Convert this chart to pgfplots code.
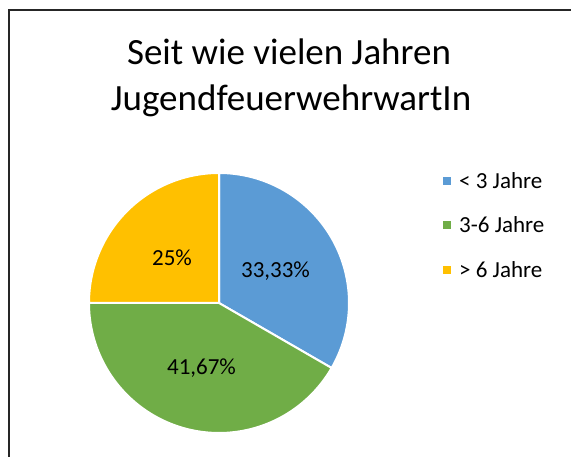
\documentclass[border=0pt]{standalone}
\usepackage{pgfplots}
\usepackage{pgfplotstable}
\pgfplotsset{compat=1.18}
\usepackage{fontspec}
\setmainfont{Carlito}
\definecolor{pieblue}{HTML}{5B9BD5}
\definecolor{piegreen}{HTML}{70AD47}
\definecolor{pieyellow}{HTML}{FFC000}
\pgfplotstableread{
label value
a 33.33
b 41.67
c 25
}\piedata
\pgfplotstablegetelem{0}{value}\of\piedata\let\va\pgfplotsretval
\pgfplotstablegetelem{1}{value}\of\piedata\let\vb\pgfplotsretval
\pgfplotstablegetelem{2}{value}\of\piedata\let\vc\pgfplotsretval
\pgfmathsetmacro\aA{90}
\pgfmathsetmacro\aB{90-3.6*\va}
\pgfmathsetmacro\aC{\aB-3.6*\vb}
\pgfmathsetmacro\aD{\aC-3.6*\vc}
\begin{document}%
\begin{tikzpicture}
\begin{axis}[x=1pt,y=1pt,xmin=0,xmax=571,ymin=0,ymax=457,hide axis,clip=false,anchor=origin,at={(0,0)}]
\draw[black!85,line width=1.3pt] (axis cs:9,0) -- (axis cs:9,447) -- (axis cs:571,447);
\addplot[fill=pieblue,draw=white,line width=2pt,domain=\aB:\aA,samples=120] ({219+130*cos(x)},{154+130*sin(x)}) -- (axis cs:219,154) -- cycle;
\addplot[fill=piegreen,draw=white,line width=2pt,domain=\aC:\aB,samples=120] ({219+130*cos(x)},{154+130*sin(x)}) -- (axis cs:219,154) -- cycle;
\addplot[fill=pieyellow,draw=white,line width=2pt,domain=\aD:\aC,samples=120] ({219+130*cos(x)},{154+130*sin(x)}) -- (axis cs:219,154) -- cycle;
\node[font=\fontsize{23}{28}\selectfont] at (axis cs:275.5,186) {33,33\%};
\node[font=\fontsize{23}{28}\selectfont] at (axis cs:172,199) {25\%};
\node[font=\fontsize{23}{28}\selectfont] at (axis cs:201.5,89) {41,67\%};
\node[font=\fontsize{37}{44}\selectfont,anchor=base] at (axis cs:289,392) {Seit wie vielen Jahren};
\node[font=\fontsize{37}{44}\selectfont,anchor=base] at (axis cs:291,346) {JugendfeuerwehrwartIn};
\fill[pieblue] (axis cs:443,272) rectangle (axis cs:451,280);
\fill[piegreen] (axis cs:443,228) rectangle (axis cs:451,236);
\fill[pieyellow] (axis cs:443,183) rectangle (axis cs:451,191);
\node[font=\fontsize{23}{28}\selectfont,anchor=west,inner sep=0pt] at (axis cs:459,276) {< 3 Jahre};
\node[font=\fontsize{23}{28}\selectfont,anchor=west,inner sep=0pt] at (axis cs:459,232) {3-6 Jahre};
\node[font=\fontsize{23}{28}\selectfont,anchor=west,inner sep=0pt] at (axis cs:459,187) {> 6 Jahre};
\end{axis}
\pgfresetboundingbox
\path[use as bounding box] (0,0) rectangle (571pt,457pt);
\end{tikzpicture}%
\end{document}
